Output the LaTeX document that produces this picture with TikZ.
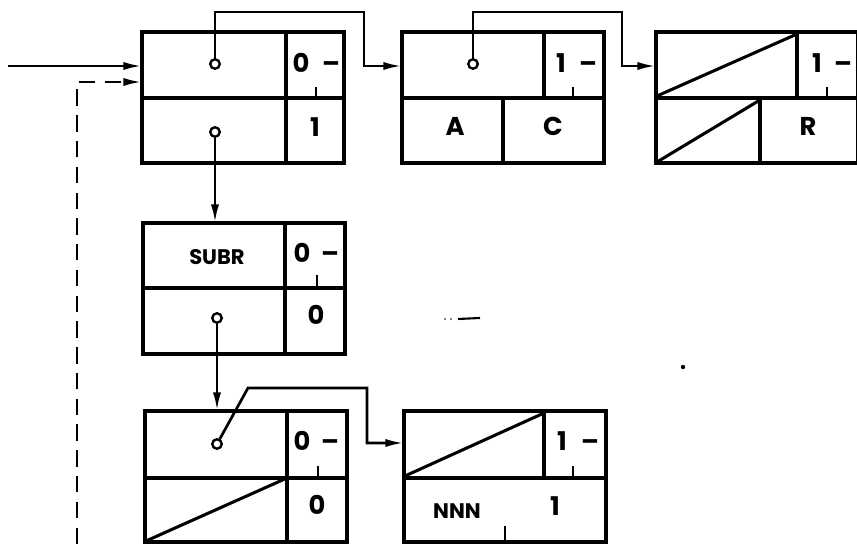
\documentclass[tikz,border=0pt]{standalone}
\usepackage{fontspec}
\newfontfamily\diagfont{Poppins}
\usetikzlibrary{arrows.meta}
\begin{document}
\begin{tikzpicture}[x=0.03cm,y=-0.03cm,
  rec/.style={draw, line width=2.6pt, rectangle, minimum width=6.06cm, minimum height=3.93cm, anchor=north west, inner sep=0pt, outer sep=0pt},
  rule/.style={line width=2.6pt},
  diag/.style={line width=2.6pt},
  tickmark/.style={line width=1.4pt},
  conn/.style={line width=2.3pt, -{Latex[length=16pt,width=7pt]}},
  dconn/.style={conn, dash pattern=on 14pt off 8pt},
  ptr/.style={circle, draw, line width=1.9pt, fill=white, minimum size=0.28cm, inner sep=0pt},
  big/.style={font=\diagfont\bfseries\fontsize{22}{22}\selectfont, inner sep=0pt, text height=0.7em, text depth=0pt},
  small/.style={font=\diagfont\bfseries\fontsize{18}{18}\selectfont, inner sep=0pt}
]
\useasboundingbox (0,0) rectangle (857,544);

% boxes
\node[rec] (b1) at (142,32) {};
\node[rec] (b2) at (402,32) {};
\node[rec] (b3) at (656,32) {};
\node[rec] (b4) at (143,223) {};
\node[rec] (b5) at (145,411) {};
\node[rec] (b6) at (404,411) {};

% box 1 internal
\draw[rule] (b1.west |- 0,98) -- (b1.east |- 0,98);
\draw[rule] (286,32) -- (286,163);
\draw[tickmark] (316,87) -- (316,98);
\node[big] (t1a) at (301,68) {0};
\node[big] (t1b) at (331,68) {–};
\node[big] (t1c) at (315,132) {1};

% box 2 internal
\draw[rule] (b2.west |- 0,98) -- (b2.east |- 0,98);
\draw[rule] (544,32) -- (544,98);
\draw[rule] (503,98) -- (503,163);
\draw[tickmark] (573,87) -- (573,98);
\node[big] (t2a) at (561,68) {1};
\node[big] (t2b) at (588,68) {–};
\node[big] (t2c) at (455,131) {A};
\node[big] (t2d) at (553,131) {C};

% box 3 internal
\draw[rule] (b3.west |- 0,98) -- (b3.east |- 0,98);
\draw[rule] (797,32) -- (797,98);
\draw[rule] (760,98) -- (760,163);
\draw[tickmark] (827,87) -- (827,98);
\draw[diag] (657,96) -- (797,34);
\draw[diag] (657,162) -- (760,100);
\node[big] (t3a) at (817,68) {1};
\node[big] (t3b) at (843,68) {–};
\node[big] (t3c) at (808,131) {R};

% box 4 (SUBR)
\draw[rule] (b4.west |- 0,288) -- (b4.east |- 0,288);
\draw[rule] (285,223) -- (285,354);
\draw[tickmark] (317,275) -- (317,288);
\node[small] (t4a) at (217,257) {SUBR};
\node[big] (t4b) at (302,258) {0};
\node[big] (t4c) at (330,258) {–};
\node[big] (t4d) at (316,320) {0};

% box 5
\draw[rule] (b5.west |- 0,478) -- (b5.east |- 0,478);
\draw[rule] (287,411) -- (287,542);
\draw[tickmark] (318,466) -- (318,478);
\draw[diag] (146,541) -- (287,478);
\node[big] (t5a) at (302,446) {0};
\node[big] (t5b) at (330,446) {–};
\node[big] (t5c) at (317,510) {0};

% box 6
\draw[rule] (b6.west |- 0,478) -- (b6.east |- 0,478);
\draw[rule] (544,411) -- (544,478);
\draw[tickmark] (573,466) -- (573,478);
\draw[tickmark] (505,526) -- (505,542);
\draw[diag] (405,476) -- (544,413);
\node[big] (t6a) at (562,446) {1};
\node[big] (t6b) at (590,446) {–};
\node[small] (t6c) at (457,511) {NNN};
\node[big] (t6d) at (555,511) {1};

% pointer origins
\node[ptr] (p1) at (215,64) {};
\node[ptr] (q1) at (215,132) {};
\node[ptr] (p2) at (473,64) {};
\node[ptr] (q4) at (217,318) {};
\node[ptr] (p5) at (217,444) {};

% connector bends
\coordinate (in0) at (8,66);
\coordinate (d0) at (77,544);
\coordinate (d1) at (77,82);
\coordinate (k1) at (364,12);
\coordinate (k2) at (622,12);
\coordinate (k5a) at (248,388);
\coordinate (k5b) at (367,388);

% connectors
\draw[conn] (in0) -- (in0 -| b1.west);
\draw[dconn] (d0) -- (d1) -- (d1 -| b1.west);
\draw[conn] (p1.north) |- (k1) |- (b2.west |- 0,66);
\draw[conn] (p2.north) |- (k2) |- (b3.west |- 0,66);
\draw[conn] (q1.south) -- (q1 |- b4.north);
\draw[conn] (q4.south) -- (q4 |- b5.north);
\draw[conn] (p5) -- (k5a) -- (k5b) |- (b6.west |- 0,443);

% redraw pointer circles on top
\node[ptr] at (p1) {};
\node[ptr] at (q1) {};
\node[ptr] at (p2) {};
\node[ptr] at (q4) {};
\node[ptr] at (p5) {};

% scan specks
\draw[line width=1.8pt] (458,319) -- (480,318);
\fill (445,319) circle (0.9);
\fill (451,319) circle (0.9);
\fill (683,367) circle (2.2);
\end{tikzpicture}
\end{document}
